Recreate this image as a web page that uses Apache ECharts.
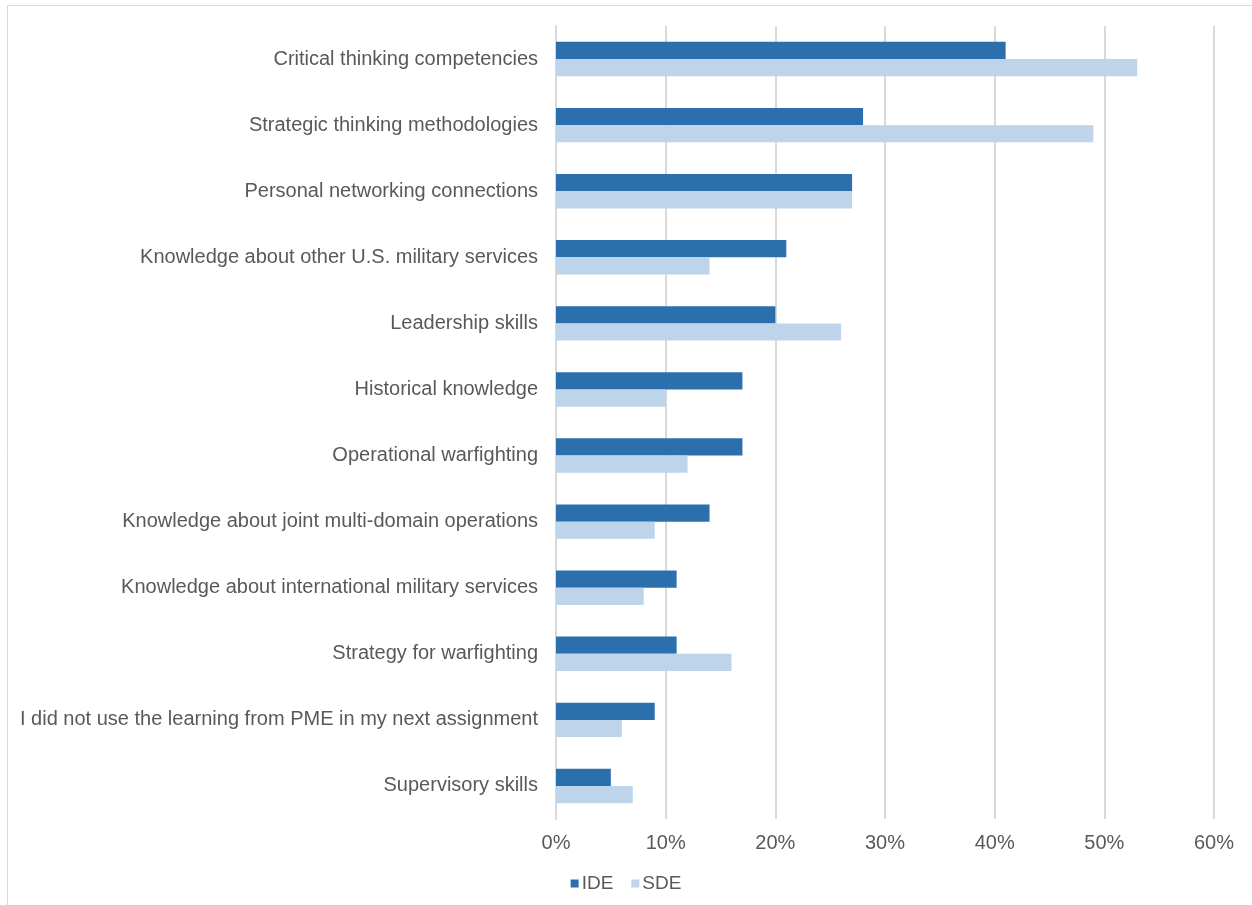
<!DOCTYPE html>
<html>
<head>
<meta charset="utf-8">
<script src="https://cdn.jsdelivr.net/npm/echarts@6/dist/echarts.min.js"></script>
<style>
  html, body { margin: 0; padding: 0; background: #fff; }
  #chart { width: 1252px; height: 905px; }
</style>
</head>
<body>
<div id="chart"></div>
<script>
// Skills used from PME in the next assignment, by school level
const categories = [
  'Critical thinking competencies',
  'Strategic thinking methodologies',
  'Personal networking connections',
  'Knowledge about other U.S. military services',
  'Leadership skills',
  'Historical knowledge',
  'Operational warfighting',
  'Knowledge about joint multi-domain operations',
  'Knowledge about international military services',
  'Strategy for warfighting',
  'I did not use the learning from PME in my next assignment',
  'Supervisory skills'
];
const ideValues = [41, 28, 27, 21, 20, 17, 17, 14, 11, 11, 9, 5];
const sdeValues = [53, 49, 27, 14, 26, 10, 12, 9, 8, 16, 6, 7];
const seriesNames = ['IDE', 'SDE'];

const FONT = '"Liberation Sans", Arial, Helvetica, sans-serif';
const TEXT = '#595959';
const GRID = '#d9d9d9';

const chart = echarts.init(document.getElementById('chart'), null, { renderer: 'canvas' });

chart.setOption({
  backgroundColor: '#ffffff',
  animation: false,
  textStyle: { fontFamily: FONT },
  graphic: [{
    type: 'rect',
    shape: { x: 7.5, y: 5.5, width: 1260, height: 920 },
    style: { fill: 'none', stroke: GRID, lineWidth: 1 },
    silent: true
  }],
  grid: { left: 556, right: 38, top: 26, bottom: 86, containLabel: false },
  legend: {
    data: seriesNames,
    bottom: 7,
    left: 'center',
    itemWidth: 8,
    itemHeight: 8,
    itemGap: 18,
    icon: 'rect',
    textStyle: { fontFamily: FONT, fontSize: 19, color: TEXT, padding: [0, 0, 0, -2] }
  },
  xAxis: {
    type: 'value',
    min: 0,
    max: 60,
    interval: 10,
    axisLine: { show: false },
    axisTick: { show: false },
    splitLine: { show: true, lineStyle: { color: GRID, width: 2 } },
    axisLabel: {
      formatter: '{value}%',
      fontFamily: FONT,
      fontSize: 20,
      color: TEXT,
      margin: 14
    }
  },
  yAxis: {
    type: 'category',
    data: categories,
    inverse: true,
    axisLine: { show: true, lineStyle: { color: GRID, width: 2 } },
    axisTick: { show: false },
    axisLabel: {
      fontFamily: FONT,
      fontSize: 20,
      color: TEXT,
      margin: 18
    }
  },
  series: [
    {
      name: seriesNames[0],
      type: 'bar',
      data: ideValues,
      barGap: '0%',
      barCategoryGap: '48%',
      itemStyle: { color: '#2b70ad' }
    },
    {
      name: seriesNames[1],
      type: 'bar',
      data: sdeValues,
      barGap: '0%',
      barCategoryGap: '48%',
      itemStyle: { color: '#bdd4ea' }
    }
  ]
});
</script>
</body>
</html>
